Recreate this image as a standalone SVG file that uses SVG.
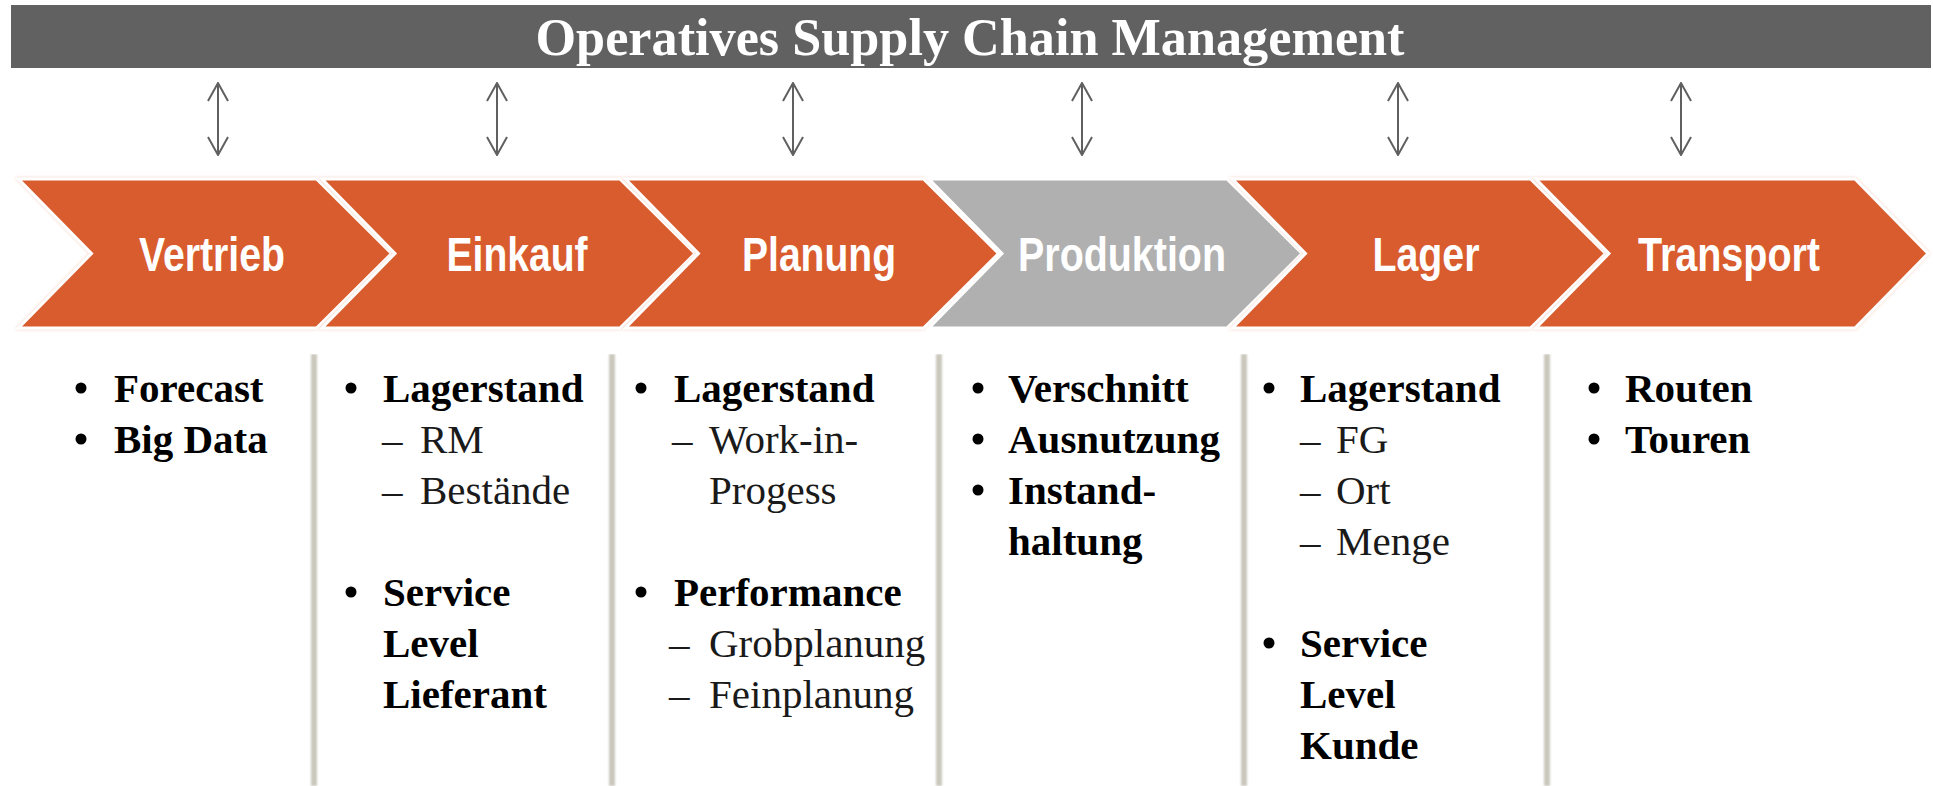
<svg xmlns="http://www.w3.org/2000/svg" width="1933" height="786" viewBox="0 0 1933 786">
<defs>
<style>
.bar{fill:#616161}
.title{font-family:"Liberation Serif","Times New Roman",serif;font-size:52px;font-weight:bold;fill:#ffffff;text-anchor:middle}
.conn line{stroke:#606060;stroke-width:2;fill:none}
.chev{stroke:#ffffff;stroke-width:3;stroke-linejoin:miter}
.or{fill:#D95C2F}
.gr{fill:#B0B0B0}
.lbl{font-family:"Liberation Sans Narrow","Liberation Sans",Arial,sans-serif;font-weight:bold;font-size:48px;fill:#ffffff;text-anchor:middle}
.sep{fill:#CAC7BC}
.b{font-family:"Liberation Serif","Times New Roman",serif;font-size:41px;font-weight:bold;fill:#000000}
.r{font-family:"Liberation Serif","Times New Roman",serif;font-size:41px;font-weight:normal;fill:#1a1a1a}
.dot{fill:#000000}
</style>
<marker id="ah" viewBox="0 0 20 22" refX="19" refY="11" markerWidth="20" markerHeight="22" markerUnits="userSpaceOnUse" orient="auto-start-reverse">
<path d="M1,1 L19,11 L1,21" fill="none" stroke="#606060" stroke-width="2"/>
</marker>
<filter id="glow" x="-5%" y="-10%" width="110%" height="120%">
<feDropShadow dx="0" dy="0" stdDeviation="1.5" flood-color="#E8906A" flood-opacity="0.45"/>
</filter>
<filter id="sh" x="-200%" y="0" width="500%" height="100%">
<feGaussianBlur stdDeviation="1"/>
</filter>
</defs>

<g id="header">
<rect class="bar" x="11" y="5" width="1920" height="63"/>
<text class="title" x="970" y="55" textLength="869" lengthAdjust="spacingAndGlyphs">Operatives Supply Chain Management</text>
</g>

<g id="connectors" class="conn">
<line x1="218" y1="83" x2="218" y2="155" marker-start="url(#ah)" marker-end="url(#ah)"/>
<line x1="497" y1="83" x2="497" y2="155" marker-start="url(#ah)" marker-end="url(#ah)"/>
<line x1="793" y1="83" x2="793" y2="155" marker-start="url(#ah)" marker-end="url(#ah)"/>
<line x1="1082" y1="83" x2="1082" y2="155" marker-start="url(#ah)" marker-end="url(#ah)"/>
<line x1="1398" y1="83" x2="1398" y2="155" marker-start="url(#ah)" marker-end="url(#ah)"/>
<line x1="1681" y1="83" x2="1681" y2="155" marker-start="url(#ah)" marker-end="url(#ah)"/>
</g>

<g id="vertrieb">
<polygon class="chev or" filter="url(#glow)" points="18.5,179 316.5,179 391.5,253.5 316.5,328 18.5,328 91.5,253.5"/>
<text class="lbl" x="212" y="271" textLength="146" lengthAdjust="spacingAndGlyphs">Vertrieb</text>
</g>
<g id="einkauf">
<polygon class="chev or" filter="url(#glow)" points="322,179 620,179 695,253.5 620,328 322,328 395,253.5"/>
<text class="lbl" x="517" y="271" textLength="141" lengthAdjust="spacingAndGlyphs">Einkauf</text>
</g>
<g id="planung">
<polygon class="chev or" filter="url(#glow)" points="625.5,179 923.5,179 998.5,253.5 923.5,328 625.5,328 698.5,253.5"/>
<text class="lbl" x="819" y="271" textLength="154" lengthAdjust="spacingAndGlyphs">Planung</text>
</g>
<g id="produktion">
<polygon class="chev gr" points="929,179 1227,179 1302,253.5 1227,328 929,328 1002,253.5"/>
<text class="lbl" x="1122" y="271" textLength="208" lengthAdjust="spacingAndGlyphs">Produktion</text>
</g>
<g id="lager">
<polygon class="chev or" filter="url(#glow)" points="1232.5,179 1530.5,179 1605.5,253.5 1530.5,328 1232.5,328 1305.5,253.5"/>
<text class="lbl" x="1426" y="271" textLength="107" lengthAdjust="spacingAndGlyphs">Lager</text>
</g>
<g id="transport">
<polygon class="chev or" filter="url(#glow)" points="1536,179 1855,179 1928,253.5 1855,328 1536,328 1609,253.5"/>
<text class="lbl" x="1729" y="271" textLength="182" lengthAdjust="spacingAndGlyphs">Transport</text>
</g>

<g id="separators">
<rect class="sep" x="311" y="354" width="6" height="432" filter="url(#sh)"/>
<rect class="sep" x="609" y="354" width="6" height="432" filter="url(#sh)"/>
<rect class="sep" x="936" y="354" width="6" height="432" filter="url(#sh)"/>
<rect class="sep" x="1241" y="354" width="6" height="432" filter="url(#sh)"/>
<rect class="sep" x="1544" y="354" width="6" height="432" filter="url(#sh)"/>
</g>

<g id="list-vertrieb">
<circle class="dot" cx="81" cy="388" r="5.5"/>
<text class="b" x="114" y="402">Forecast</text>
<circle class="dot" cx="81" cy="439" r="5.5"/>
<text class="b" x="114" y="453">Big Data</text>
</g>

<g id="list-einkauf">
<circle class="dot" cx="351" cy="388" r="5.5"/>
<text class="b" x="383" y="402">Lagerstand</text>
<text class="r" y="453"><tspan x="382">–</tspan><tspan x="420">RM</tspan></text>
<text class="r" y="504"><tspan x="382">–</tspan><tspan x="420">Bestände</tspan></text>
<circle class="dot" cx="351" cy="592" r="5.5"/>
<text class="b" x="383" y="606">Service</text>
<text class="b" x="383" y="657">Level</text>
<text class="b" x="383" y="708">Lieferant</text>
</g>

<g id="list-planung">
<circle class="dot" cx="641" cy="388" r="5.5"/>
<text class="b" x="674" y="402">Lagerstand</text>
<text class="r" y="453"><tspan x="672">–</tspan><tspan x="709">Work-in-</tspan></text>
<text class="r" x="709" y="504">Progess</text>
<circle class="dot" cx="641" cy="592" r="5.5"/>
<text class="b" x="674" y="606">Performance</text>
<text class="r" y="657"><tspan x="669">–</tspan><tspan x="709">Grobplanung</tspan></text>
<text class="r" y="708"><tspan x="669">–</tspan><tspan x="709">Feinplanung</tspan></text>
</g>

<g id="list-produktion">
<circle class="dot" cx="978" cy="388" r="5.5"/>
<text class="b" x="1008" y="402">Verschnitt</text>
<circle class="dot" cx="978" cy="439" r="5.5"/>
<text class="b" x="1008" y="453">Ausnutzung</text>
<circle class="dot" cx="978" cy="490" r="5.5"/>
<text class="b" x="1008" y="504">Instand-</text>
<text class="b" x="1008" y="555">haltung</text>
</g>

<g id="list-lager">
<circle class="dot" cx="1269" cy="388" r="5.5"/>
<text class="b" x="1300" y="402">Lagerstand</text>
<text class="r" y="453"><tspan x="1300">–</tspan><tspan x="1336">FG</tspan></text>
<text class="r" y="504"><tspan x="1300">–</tspan><tspan x="1336">Ort</tspan></text>
<text class="r" y="555"><tspan x="1300">–</tspan><tspan x="1336">Menge</tspan></text>
<circle class="dot" cx="1269" cy="643" r="5.5"/>
<text class="b" x="1300" y="657">Service</text>
<text class="b" x="1300" y="708">Level</text>
<text class="b" x="1300" y="759">Kunde</text>
</g>

<g id="list-transport">
<circle class="dot" cx="1594" cy="388" r="5.5"/>
<text class="b" x="1625" y="402">Routen</text>
<circle class="dot" cx="1594" cy="439" r="5.5"/>
<text class="b" x="1625" y="453">Touren</text>
</g>
</svg>
